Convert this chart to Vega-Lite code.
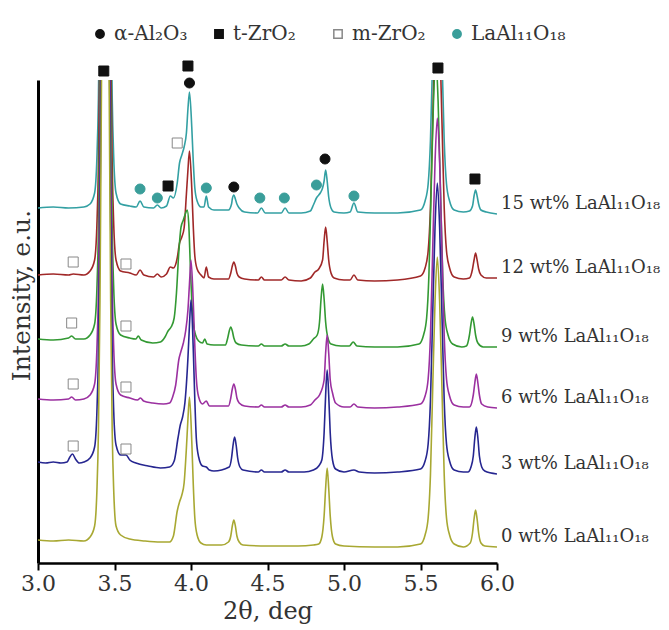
{
"$schema": "https://vega.github.io/schema/vega-lite/v6.json",
"width": 459, "height": 483,
"autosize": {"type": "none"},
"padding": {"left": 38, "top": 80, "right": 172, "bottom": 67},
"background": "white",
"config": {
  "view": {"stroke": null},
  "font": "DejaVu Serif",
  "legend": {"orient": "none", "legendX": 52, "legendY": -56, "direction": "horizontal", "labelFontSize": 20, "labelColor": "#333", "symbolSize": 70, "columnPadding": -4, "labelOffset": 4, "gridAlign": "all"}
},
"datasets": {
"xrd": [
{"s":"15","x":3.0,"y":355},{"s":"15","x":3.1,"y":356},{"s":"15","x":3.2,"y":355},{"s":"15","x":3.3,"y":356},{"s":"15","x":3.34,"y":359},{"s":"15","x":3.37,"y":370},{"s":"15","x":3.385,"y":405},{"s":"15","x":3.395,"y":465},{"s":"15","x":3.405,"y":595},{"s":"15","x":3.415,"y":815},{"s":"15","x":3.44,"y":1355},{"s":"15","x":3.465,"y":815},{"s":"15","x":3.475,"y":595},{"s":"15","x":3.485,"y":465},{"s":"15","x":3.495,"y":405},{"s":"15","x":3.51,"y":370},{"s":"15","x":3.54,"y":359},{"s":"15","x":3.6,"y":357},{"s":"15","x":3.642,"y":356},{"s":"15","x":3.667,"y":362},{"s":"15","x":3.692,"y":356},{"s":"15","x":3.755,"y":355},{"s":"15","x":3.78,"y":358},{"s":"15","x":3.805,"y":355},{"s":"15","x":3.84,"y":357},{"s":"15","x":3.865,"y":367},{"s":"15","x":3.885,"y":365},{"s":"15","x":3.91,"y":380},{"s":"15","x":3.925,"y":400},{"s":"15","x":3.94,"y":408},{"s":"15","x":3.955,"y":416},{"s":"15","x":3.97,"y":430},{"s":"15","x":3.98,"y":454},{"s":"15","x":3.99,"y":471},{"s":"15","x":4.005,"y":436},{"s":"15","x":4.015,"y":401},{"s":"15","x":4.025,"y":375},{"s":"15","x":4.04,"y":362},{"s":"15","x":4.065,"y":356},{"s":"15","x":4.085,"y":356},{"s":"15","x":4.1,"y":367},{"s":"15","x":4.115,"y":356},{"s":"15","x":4.15,"y":353},{"s":"15","x":4.245,"y":353},{"s":"15","x":4.265,"y":359},{"s":"15","x":4.27,"y":364},{"s":"15","x":4.28,"y":368},{"s":"15","x":4.29,"y":364},{"s":"15","x":4.3,"y":359},{"s":"15","x":4.315,"y":355},{"s":"15","x":4.35,"y":351},{"s":"15","x":4.435,"y":350},{"s":"15","x":4.46,"y":355},{"s":"15","x":4.485,"y":350},{"s":"15","x":4.59,"y":350},{"s":"15","x":4.615,"y":355},{"s":"15","x":4.64,"y":350},{"s":"15","x":4.72,"y":350},{"s":"15","x":4.78,"y":352},{"s":"15","x":4.8,"y":358},{"s":"15","x":4.82,"y":365},{"s":"15","x":4.845,"y":370},{"s":"15","x":4.86,"y":375},{"s":"15","x":4.87,"y":382},{"s":"15","x":4.88,"y":393},{"s":"15","x":4.89,"y":382},{"s":"15","x":4.9,"y":366},{"s":"15","x":4.915,"y":355},{"s":"15","x":4.935,"y":351},{"s":"15","x":5.0,"y":350},{"s":"15","x":5.04,"y":351},{"s":"15","x":5.065,"y":360},{"s":"15","x":5.09,"y":351},{"s":"15","x":5.2,"y":350},{"s":"15","x":5.35,"y":350},{"s":"15","x":5.5,"y":353},{"s":"15","x":5.53,"y":362},{"s":"15","x":5.55,"y":379},{"s":"15","x":5.565,"y":422},{"s":"15","x":5.58,"y":510},{"s":"15","x":5.595,"y":596},{"s":"15","x":5.61,"y":640},{"s":"15","x":5.625,"y":596},{"s":"15","x":5.64,"y":510},{"s":"15","x":5.655,"y":422},{"s":"15","x":5.67,"y":379},{"s":"15","x":5.69,"y":362},{"s":"15","x":5.72,"y":353},{"s":"15","x":5.78,"y":351},{"s":"15","x":5.82,"y":352},{"s":"15","x":5.84,"y":357},{"s":"15","x":5.85,"y":367},{"s":"15","x":5.86,"y":373},{"s":"15","x":5.87,"y":367},{"s":"15","x":5.88,"y":359},{"s":"15","x":5.895,"y":353},{"s":"15","x":5.93,"y":351},{"s":"15","x":6.0,"y":349},
{"s":"12","x":3.0,"y":288},{"s":"12","x":3.1,"y":289},{"s":"12","x":3.2,"y":288},{"s":"12","x":3.23,"y":289},{"s":"12","x":3.3,"y":288},{"s":"12","x":3.34,"y":292},{"s":"12","x":3.37,"y":303},{"s":"12","x":3.385,"y":338},{"s":"12","x":3.395,"y":398},{"s":"12","x":3.405,"y":528},{"s":"12","x":3.415,"y":748},{"s":"12","x":3.44,"y":1288},{"s":"12","x":3.465,"y":748},{"s":"12","x":3.475,"y":528},{"s":"12","x":3.485,"y":398},{"s":"12","x":3.495,"y":338},{"s":"12","x":3.51,"y":303},{"s":"12","x":3.54,"y":292},{"s":"12","x":3.6,"y":290},{"s":"12","x":3.642,"y":288},{"s":"12","x":3.667,"y":293},{"s":"12","x":3.692,"y":288},{"s":"12","x":3.755,"y":286},{"s":"12","x":3.78,"y":289},{"s":"12","x":3.805,"y":286},{"s":"12","x":3.84,"y":289},{"s":"12","x":3.865,"y":296},{"s":"12","x":3.885,"y":295},{"s":"12","x":3.91,"y":305},{"s":"12","x":3.925,"y":320},{"s":"12","x":3.94,"y":326},{"s":"12","x":3.955,"y":335},{"s":"12","x":3.97,"y":369},{"s":"12","x":3.98,"y":393},{"s":"12","x":3.99,"y":412},{"s":"12","x":4.005,"y":375},{"s":"12","x":4.015,"y":336},{"s":"12","x":4.025,"y":307},{"s":"12","x":4.04,"y":294},{"s":"12","x":4.065,"y":288},{"s":"12","x":4.085,"y":285},{"s":"12","x":4.1,"y":296},{"s":"12","x":4.115,"y":286},{"s":"12","x":4.15,"y":284},{"s":"12","x":4.245,"y":284},{"s":"12","x":4.26,"y":290},{"s":"12","x":4.27,"y":297},{"s":"12","x":4.28,"y":301},{"s":"12","x":4.29,"y":297},{"s":"12","x":4.3,"y":290},{"s":"12","x":4.315,"y":286},{"s":"12","x":4.35,"y":284},{"s":"12","x":4.44,"y":283},{"s":"12","x":4.46,"y":286},{"s":"12","x":4.48,"y":283},{"s":"12","x":4.59,"y":283},{"s":"12","x":4.615,"y":286},{"s":"12","x":4.64,"y":283},{"s":"12","x":4.72,"y":282},{"s":"12","x":4.78,"y":285},{"s":"12","x":4.81,"y":291},{"s":"12","x":4.835,"y":294},{"s":"12","x":4.86,"y":303},{"s":"12","x":4.87,"y":322},{"s":"12","x":4.88,"y":336},{"s":"12","x":4.89,"y":322},{"s":"12","x":4.9,"y":303},{"s":"12","x":4.915,"y":290},{"s":"12","x":4.935,"y":285},{"s":"12","x":5.0,"y":283},{"s":"12","x":5.04,"y":283},{"s":"12","x":5.065,"y":288},{"s":"12","x":5.09,"y":283},{"s":"12","x":5.2,"y":282},{"s":"12","x":5.35,"y":283},{"s":"12","x":5.5,"y":287},{"s":"12","x":5.53,"y":295},{"s":"12","x":5.55,"y":312},{"s":"12","x":5.565,"y":355},{"s":"12","x":5.58,"y":443},{"s":"12","x":5.595,"y":529},{"s":"12","x":5.61,"y":573},{"s":"12","x":5.625,"y":529},{"s":"12","x":5.64,"y":443},{"s":"12","x":5.655,"y":355},{"s":"12","x":5.67,"y":312},{"s":"12","x":5.69,"y":295},{"s":"12","x":5.72,"y":286},{"s":"12","x":5.78,"y":284},{"s":"12","x":5.82,"y":285},{"s":"12","x":5.84,"y":294},{"s":"12","x":5.85,"y":303},{"s":"12","x":5.86,"y":310},{"s":"12","x":5.87,"y":303},{"s":"12","x":5.88,"y":294},{"s":"12","x":5.895,"y":288},{"s":"12","x":5.93,"y":285},{"s":"12","x":6.0,"y":285},
{"s":"9","x":3.0,"y":224},{"s":"9","x":3.1,"y":223},{"s":"9","x":3.2,"y":225},{"s":"9","x":3.22,"y":227},{"s":"9","x":3.245,"y":224},{"s":"9","x":3.3,"y":224},{"s":"9","x":3.34,"y":228},{"s":"9","x":3.37,"y":239},{"s":"9","x":3.385,"y":274},{"s":"9","x":3.395,"y":334},{"s":"9","x":3.405,"y":464},{"s":"9","x":3.415,"y":684},{"s":"9","x":3.44,"y":1224},{"s":"9","x":3.465,"y":684},{"s":"9","x":3.475,"y":464},{"s":"9","x":3.485,"y":334},{"s":"9","x":3.495,"y":274},{"s":"9","x":3.51,"y":239},{"s":"9","x":3.54,"y":228},{"s":"9","x":3.6,"y":225},{"s":"9","x":3.64,"y":224},{"s":"9","x":3.655,"y":227},{"s":"9","x":3.675,"y":223},{"s":"9","x":3.75,"y":220},{"s":"9","x":3.8,"y":221},{"s":"9","x":3.83,"y":226},{"s":"9","x":3.85,"y":232},{"s":"9","x":3.87,"y":236},{"s":"9","x":3.89,"y":245},{"s":"9","x":3.905,"y":270},{"s":"9","x":3.92,"y":310},{"s":"9","x":3.935,"y":336},{"s":"9","x":3.95,"y":343},{"s":"9","x":3.965,"y":350},{"s":"9","x":3.975,"y":353},{"s":"9","x":3.985,"y":340},{"s":"9","x":3.995,"y":300},{"s":"9","x":4.005,"y":262},{"s":"9","x":4.015,"y":240},{"s":"9","x":4.03,"y":228},{"s":"9","x":4.05,"y":222},{"s":"9","x":4.075,"y":220},{"s":"9","x":4.09,"y":224},{"s":"9","x":4.105,"y":219},{"s":"9","x":4.15,"y":218},{"s":"9","x":4.225,"y":218},{"s":"9","x":4.24,"y":225},{"s":"9","x":4.25,"y":232},{"s":"9","x":4.26,"y":236},{"s":"9","x":4.27,"y":232},{"s":"9","x":4.28,"y":225},{"s":"9","x":4.295,"y":220},{"s":"9","x":4.33,"y":218},{"s":"9","x":4.44,"y":217},{"s":"9","x":4.46,"y":219},{"s":"9","x":4.48,"y":217},{"s":"9","x":4.59,"y":217},{"s":"9","x":4.615,"y":219},{"s":"9","x":4.64,"y":217},{"s":"9","x":4.72,"y":217},{"s":"9","x":4.77,"y":219},{"s":"9","x":4.8,"y":224},{"s":"9","x":4.825,"y":228},{"s":"9","x":4.84,"y":241},{"s":"9","x":4.85,"y":264},{"s":"9","x":4.86,"y":279},{"s":"9","x":4.87,"y":264},{"s":"9","x":4.88,"y":241},{"s":"9","x":4.895,"y":225},{"s":"9","x":4.915,"y":219},{"s":"9","x":4.98,"y":217},{"s":"9","x":5.035,"y":217},{"s":"9","x":5.06,"y":221},{"s":"9","x":5.085,"y":217},{"s":"9","x":5.2,"y":216},{"s":"9","x":5.35,"y":216},{"s":"9","x":5.49,"y":219},{"s":"9","x":5.52,"y":228},{"s":"9","x":5.54,"y":245},{"s":"9","x":5.555,"y":288},{"s":"9","x":5.57,"y":376},{"s":"9","x":5.585,"y":462},{"s":"9","x":5.6,"y":506},{"s":"9","x":5.615,"y":462},{"s":"9","x":5.63,"y":376},{"s":"9","x":5.645,"y":288},{"s":"9","x":5.66,"y":245},{"s":"9","x":5.68,"y":228},{"s":"9","x":5.71,"y":219},{"s":"9","x":5.77,"y":216},{"s":"9","x":5.8,"y":217},{"s":"9","x":5.82,"y":228},{"s":"9","x":5.83,"y":239},{"s":"9","x":5.84,"y":246},{"s":"9","x":5.85,"y":239},{"s":"9","x":5.86,"y":228},{"s":"9","x":5.875,"y":220},{"s":"9","x":5.91,"y":216},{"s":"9","x":6.0,"y":216},
{"s":"6","x":3.0,"y":164},{"s":"6","x":3.1,"y":163},{"s":"6","x":3.2,"y":164},{"s":"6","x":3.22,"y":166},{"s":"6","x":3.245,"y":163},{"s":"6","x":3.3,"y":164},{"s":"6","x":3.34,"y":168},{"s":"6","x":3.37,"y":179},{"s":"6","x":3.385,"y":214},{"s":"6","x":3.395,"y":274},{"s":"6","x":3.405,"y":404},{"s":"6","x":3.415,"y":624},{"s":"6","x":3.44,"y":1164},{"s":"6","x":3.465,"y":624},{"s":"6","x":3.475,"y":404},{"s":"6","x":3.485,"y":274},{"s":"6","x":3.495,"y":214},{"s":"6","x":3.51,"y":179},{"s":"6","x":3.54,"y":168},{"s":"6","x":3.6,"y":165},{"s":"6","x":3.65,"y":163},{"s":"6","x":3.67,"y":165},{"s":"6","x":3.69,"y":162},{"s":"6","x":3.75,"y":160},{"s":"6","x":3.82,"y":159},{"s":"6","x":3.86,"y":160},{"s":"6","x":3.88,"y":166},{"s":"6","x":3.9,"y":178},{"s":"6","x":3.92,"y":203},{"s":"6","x":3.935,"y":212},{"s":"6","x":3.95,"y":220},{"s":"6","x":3.965,"y":232},{"s":"6","x":3.98,"y":253},{"s":"6","x":3.99,"y":279},{"s":"6","x":4.0,"y":303},{"s":"6","x":4.015,"y":260},{"s":"6","x":4.025,"y":217},{"s":"6","x":4.035,"y":184},{"s":"6","x":4.05,"y":166},{"s":"6","x":4.075,"y":159},{"s":"6","x":4.1,"y":162},{"s":"6","x":4.12,"y":157},{"s":"6","x":4.245,"y":157},{"s":"6","x":4.26,"y":165},{"s":"6","x":4.27,"y":174},{"s":"6","x":4.28,"y":179},{"s":"6","x":4.29,"y":174},{"s":"6","x":4.3,"y":165},{"s":"6","x":4.315,"y":160},{"s":"6","x":4.35,"y":157},{"s":"6","x":4.44,"y":156},{"s":"6","x":4.46,"y":158},{"s":"6","x":4.48,"y":156},{"s":"6","x":4.59,"y":156},{"s":"6","x":4.615,"y":158},{"s":"6","x":4.64,"y":156},{"s":"6","x":4.72,"y":156},{"s":"6","x":4.78,"y":158},{"s":"6","x":4.81,"y":163},{"s":"6","x":4.84,"y":168},{"s":"6","x":4.87,"y":183},{"s":"6","x":4.88,"y":210},{"s":"6","x":4.89,"y":228},{"s":"6","x":4.9,"y":210},{"s":"6","x":4.91,"y":183},{"s":"6","x":4.925,"y":170},{"s":"6","x":4.945,"y":160},{"s":"6","x":5.0,"y":156},{"s":"6","x":5.04,"y":156},{"s":"6","x":5.065,"y":159},{"s":"6","x":5.09,"y":156},{"s":"6","x":5.2,"y":155},{"s":"6","x":5.35,"y":156},{"s":"6","x":5.5,"y":159},{"s":"6","x":5.53,"y":167},{"s":"6","x":5.55,"y":184},{"s":"6","x":5.565,"y":227},{"s":"6","x":5.58,"y":315},{"s":"6","x":5.595,"y":401},{"s":"6","x":5.61,"y":445},{"s":"6","x":5.625,"y":401},{"s":"6","x":5.64,"y":315},{"s":"6","x":5.655,"y":227},{"s":"6","x":5.67,"y":184},{"s":"6","x":5.69,"y":167},{"s":"6","x":5.72,"y":158},{"s":"6","x":5.78,"y":156},{"s":"6","x":5.82,"y":156},{"s":"6","x":5.845,"y":168},{"s":"6","x":5.855,"y":180},{"s":"6","x":5.865,"y":189},{"s":"6","x":5.875,"y":180},{"s":"6","x":5.885,"y":168},{"s":"6","x":5.9,"y":159},{"s":"6","x":5.94,"y":156},{"s":"6","x":6.0,"y":155},
{"s":"3","x":3.0,"y":101},{"s":"3","x":3.05,"y":100},{"s":"3","x":3.1,"y":101},{"s":"3","x":3.15,"y":100},{"s":"3","x":3.19,"y":101},{"s":"3","x":3.205,"y":105},{"s":"3","x":3.225,"y":109},{"s":"3","x":3.245,"y":104},{"s":"3","x":3.27,"y":100},{"s":"3","x":3.3,"y":101},{"s":"3","x":3.34,"y":105},{"s":"3","x":3.37,"y":116},{"s":"3","x":3.385,"y":151},{"s":"3","x":3.395,"y":211},{"s":"3","x":3.405,"y":341},{"s":"3","x":3.415,"y":561},{"s":"3","x":3.44,"y":1101},{"s":"3","x":3.465,"y":561},{"s":"3","x":3.475,"y":341},{"s":"3","x":3.485,"y":211},{"s":"3","x":3.495,"y":151},{"s":"3","x":3.51,"y":118},{"s":"3","x":3.54,"y":108},{"s":"3","x":3.575,"y":108},{"s":"3","x":3.6,"y":103},{"s":"3","x":3.64,"y":100},{"s":"3","x":3.72,"y":97},{"s":"3","x":3.8,"y":95},{"s":"3","x":3.86,"y":96},{"s":"3","x":3.89,"y":102},{"s":"3","x":3.915,"y":125},{"s":"3","x":3.93,"y":138},{"s":"3","x":3.945,"y":146},{"s":"3","x":3.96,"y":160},{"s":"3","x":3.98,"y":205},{"s":"3","x":3.99,"y":238},{"s":"3","x":4.0,"y":263},{"s":"3","x":4.015,"y":213},{"s":"3","x":4.025,"y":163},{"s":"3","x":4.035,"y":124},{"s":"3","x":4.05,"y":106},{"s":"3","x":4.075,"y":97},{"s":"3","x":4.1,"y":96},{"s":"3","x":4.12,"y":93},{"s":"3","x":4.15,"y":92},{"s":"3","x":4.25,"y":96},{"s":"3","x":4.265,"y":105},{"s":"3","x":4.275,"y":118},{"s":"3","x":4.285,"y":126},{"s":"3","x":4.295,"y":118},{"s":"3","x":4.305,"y":105},{"s":"3","x":4.32,"y":96},{"s":"3","x":4.34,"y":93},{"s":"3","x":4.44,"y":91},{"s":"3","x":4.46,"y":93},{"s":"3","x":4.48,"y":91},{"s":"3","x":4.59,"y":91},{"s":"3","x":4.615,"y":93},{"s":"3","x":4.64,"y":91},{"s":"3","x":4.74,"y":91},{"s":"3","x":4.8,"y":93},{"s":"3","x":4.835,"y":97},{"s":"3","x":4.855,"y":103},{"s":"3","x":4.87,"y":130},{"s":"3","x":4.88,"y":168},{"s":"3","x":4.89,"y":193},{"s":"3","x":4.9,"y":168},{"s":"3","x":4.91,"y":130},{"s":"3","x":4.925,"y":103},{"s":"3","x":4.945,"y":94},{"s":"3","x":5.0,"y":91},{"s":"3","x":5.065,"y":93},{"s":"3","x":5.1,"y":91},{"s":"3","x":5.2,"y":90},{"s":"3","x":5.35,"y":91},{"s":"3","x":5.5,"y":94},{"s":"3","x":5.53,"y":102},{"s":"3","x":5.55,"y":119},{"s":"3","x":5.565,"y":162},{"s":"3","x":5.58,"y":250},{"s":"3","x":5.595,"y":336},{"s":"3","x":5.61,"y":380},{"s":"3","x":5.625,"y":336},{"s":"3","x":5.64,"y":250},{"s":"3","x":5.655,"y":162},{"s":"3","x":5.67,"y":119},{"s":"3","x":5.69,"y":102},{"s":"3","x":5.72,"y":93},{"s":"3","x":5.78,"y":91},{"s":"3","x":5.81,"y":91},{"s":"3","x":5.83,"y":96},{"s":"3","x":5.845,"y":107},{"s":"3","x":5.855,"y":125},{"s":"3","x":5.865,"y":136},{"s":"3","x":5.875,"y":125},{"s":"3","x":5.885,"y":107},{"s":"3","x":5.9,"y":96},{"s":"3","x":5.92,"y":92},{"s":"3","x":6.0,"y":89},
{"s":"0","x":3.0,"y":23},{"s":"0","x":3.1,"y":22},{"s":"0","x":3.2,"y":23},{"s":"0","x":3.3,"y":22},{"s":"0","x":3.34,"y":26},{"s":"0","x":3.37,"y":37},{"s":"0","x":3.385,"y":72},{"s":"0","x":3.395,"y":132},{"s":"0","x":3.405,"y":262},{"s":"0","x":3.415,"y":482},{"s":"0","x":3.44,"y":1022},{"s":"0","x":3.465,"y":482},{"s":"0","x":3.475,"y":262},{"s":"0","x":3.485,"y":132},{"s":"0","x":3.495,"y":72},{"s":"0","x":3.51,"y":37},{"s":"0","x":3.54,"y":28},{"s":"0","x":3.6,"y":24},{"s":"0","x":3.7,"y":22},{"s":"0","x":3.8,"y":21},{"s":"0","x":3.86,"y":21},{"s":"0","x":3.885,"y":27},{"s":"0","x":3.91,"y":52},{"s":"0","x":3.925,"y":61},{"s":"0","x":3.94,"y":68},{"s":"0","x":3.955,"y":80},{"s":"0","x":3.97,"y":115},{"s":"0","x":3.98,"y":144},{"s":"0","x":3.99,"y":166},{"s":"0","x":4.005,"y":122},{"s":"0","x":4.015,"y":78},{"s":"0","x":4.025,"y":45},{"s":"0","x":4.04,"y":28},{"s":"0","x":4.065,"y":20},{"s":"0","x":4.1,"y":18},{"s":"0","x":4.2,"y":18},{"s":"0","x":4.245,"y":21},{"s":"0","x":4.26,"y":27},{"s":"0","x":4.27,"y":37},{"s":"0","x":4.28,"y":43},{"s":"0","x":4.29,"y":37},{"s":"0","x":4.3,"y":27},{"s":"0","x":4.315,"y":21},{"s":"0","x":4.34,"y":18},{"s":"0","x":4.5,"y":17},{"s":"0","x":4.6,"y":17},{"s":"0","x":4.7,"y":17},{"s":"0","x":4.8,"y":18},{"s":"0","x":4.835,"y":19},{"s":"0","x":4.855,"y":26},{"s":"0","x":4.87,"y":47},{"s":"0","x":4.88,"y":75},{"s":"0","x":4.89,"y":95},{"s":"0","x":4.9,"y":75},{"s":"0","x":4.91,"y":47},{"s":"0","x":4.925,"y":26},{"s":"0","x":4.945,"y":19},{"s":"0","x":5.0,"y":17},{"s":"0","x":5.2,"y":16},{"s":"0","x":5.35,"y":16},{"s":"0","x":5.5,"y":19},{"s":"0","x":5.53,"y":28},{"s":"0","x":5.55,"y":45},{"s":"0","x":5.565,"y":88},{"s":"0","x":5.58,"y":176},{"s":"0","x":5.595,"y":262},{"s":"0","x":5.61,"y":306},{"s":"0","x":5.625,"y":262},{"s":"0","x":5.64,"y":176},{"s":"0","x":5.655,"y":88},{"s":"0","x":5.67,"y":45},{"s":"0","x":5.69,"y":28},{"s":"0","x":5.72,"y":19},{"s":"0","x":5.78,"y":16},{"s":"0","x":5.825,"y":20},{"s":"0","x":5.84,"y":30},{"s":"0","x":5.85,"y":44},{"s":"0","x":5.86,"y":53},{"s":"0","x":5.87,"y":44},{"s":"0","x":5.88,"y":30},{"s":"0","x":5.895,"y":20},{"s":"0","x":5.92,"y":17},{"s":"0","x":6.0,"y":16}
],
"phases": [
{"p":"α-Al₂O₃","x":3.99,"y":480},{"p":"α-Al₂O₃","x":4.28,"y":376},{"p":"α-Al₂O₃","x":4.876,"y":404},
{"p":"t-ZrO₂","x":3.43,"y":492},{"p":"t-ZrO₂","x":3.98,"y":497},{"p":"t-ZrO₂","x":3.85,"y":377},{"p":"t-ZrO₂","x":5.614,"y":495},{"p":"t-ZrO₂","x":5.856,"y":384},
{"p":"m-ZrO₂","x":3.91,"y":420},{"p":"m-ZrO₂","x":3.23,"y":301},{"p":"m-ZrO₂","x":3.575,"y":299},{"p":"m-ZrO₂","x":3.22,"y":240},{"p":"m-ZrO₂","x":3.575,"y":237},{"p":"m-ZrO₂","x":3.23,"y":179},{"p":"m-ZrO₂","x":3.575,"y":176},{"p":"m-ZrO₂","x":3.23,"y":117},{"p":"m-ZrO₂","x":3.575,"y":114},
{"p":"LaAl₁₁O₁₈","x":3.667,"y":374},{"p":"LaAl₁₁O₁₈","x":3.78,"y":365},{"p":"LaAl₁₁O₁₈","x":4.1,"y":375},{"p":"LaAl₁₁O₁₈","x":4.45,"y":365},{"p":"LaAl₁₁O₁₈","x":4.61,"y":365},{"p":"LaAl₁₁O₁₈","x":4.82,"y":378},{"p":"LaAl₁₁O₁₈","x":5.065,"y":367}
]
},
"layer": [
{
"data": {"name": "xrd"},
"mark": {"type": "line", "clip": true, "interpolate": "monotone", "strokeWidth": 1.6},
"encoding": {
  "x": {"field": "x", "type": "quantitative", "scale": {"domain": [3, 6], "nice": false, "zero": false},
        "axis": {"title": "2θ, deg", "values": [3, 3.5, 4, 4.5, 5, 5.5, 6], "format": ".1f", "labelFontSize": 22, "titleFontSize": 24, "labelColor": "#333", "titleColor": "#333", "titleFontWeight": "normal", "domainColor": "#000", "domainWidth": 2.5, "tickColor": "#000", "tickWidth": 2, "tickSize": 7, "grid": false, "labelPadding": 3, "titlePadding": 5, "labelFlush": false}},
  "y": {"field": "y", "type": "quantitative", "scale": {"domain": [0, 483], "nice": false, "zero": false},
        "axis": {"title": "Intensity, e.u.", "labels": false, "ticks": false, "grid": false, "domainColor": "#000", "domainWidth": 3, "titleFontSize": 25, "titleFontWeight": "normal", "titleColor": "#333", "titlePadding": 4, "titleY": 215}},
  "color": {"field": "s", "type": "nominal", "legend": null,
            "scale": {"domain": ["15", "12", "9", "6", "3", "0"], "range": ["#33a0a3", "#a02828", "#339933", "#9b30a0", "#262690", "#a8a832"]}}
}
},
{
"data": {"name": "xrd"},
"transform": [{"filter": "datum.x == 6"}, {"calculate": "datum.s + ' wt% LaAl₁₁O₁₈'", "as": "label"}],
"mark": {"type": "text", "align": "left", "baseline": "middle", "dx": 4, "dy": -10, "fontSize": 18, "color": "#333"},
"encoding": {
  "x": {"field": "x", "type": "quantitative"},
  "y": {"field": "y", "type": "quantitative"},
  "text": {"field": "label", "type": "nominal"}
}
},
{
"data": {"name": "phases"},
"mark": {"type": "point", "filled": true, "strokeWidth": 1, "opacity": 1, "size": 100},
"encoding": {
  "x": {"field": "x", "type": "quantitative"},
  "y": {"field": "y", "type": "quantitative"},
  "shape": {"field": "p", "type": "nominal", "title": null, "scale": {"domain": ["α-Al₂O₃", "t-ZrO₂", "m-ZrO₂", "LaAl₁₁O₁₈"], "range": ["circle", "square", "square", "circle"]}},
  "fill": {"field": "p", "type": "nominal", "title": null, "scale": {"domain": ["α-Al₂O₃", "t-ZrO₂", "m-ZrO₂", "LaAl₁₁O₁₈"], "range": ["#111111", "#111111", "#ffffff", "#3a9e9a"]}},
  "stroke": {"field": "p", "type": "nominal", "title": null, "scale": {"domain": ["α-Al₂O₃", "t-ZrO₂", "m-ZrO₂", "LaAl₁₁O₁₈"], "range": ["#111111", "#111111", "#888888", "#3a9e9a"]}}
}
}
]
}
